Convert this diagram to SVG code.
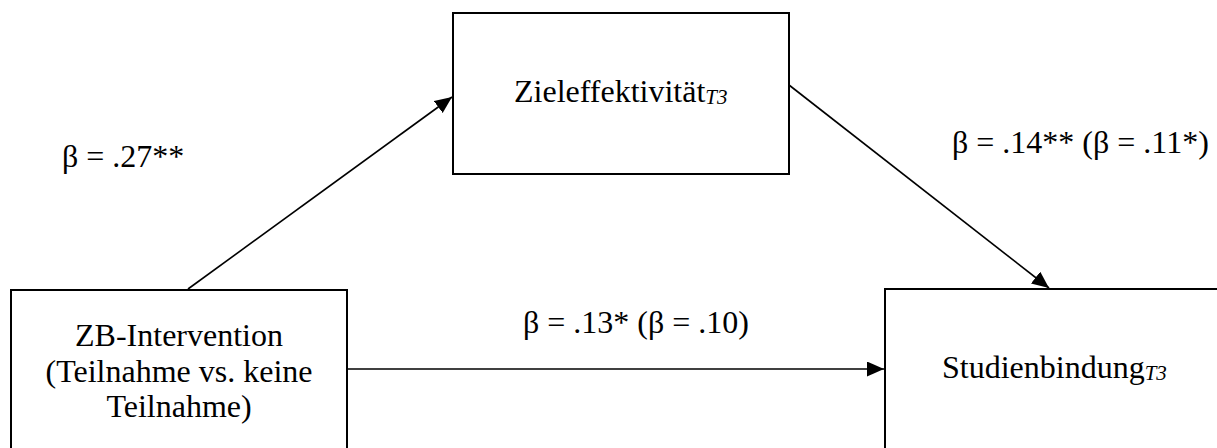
<svg xmlns="http://www.w3.org/2000/svg" width="1217" height="448" viewBox="0 0 1217 448">
<style>
.box{fill:#fff;stroke:#000;stroke-width:2}
.t{font-family:"Liberation Serif","Times New Roman",serif;font-size:32px;fill:#000}
.sub{font-family:"Liberation Serif","Times New Roman",serif;font-size:21px;font-style:italic}
.c{stroke:#000;stroke-width:1.6;fill:none;marker-end:url(#ah)}
</style>
<defs>
<marker id="ah" markerUnits="userSpaceOnUse" markerWidth="18" markerHeight="16" refX="17" refY="7.5" orient="auto">
<path d="M0,0 L17,7.5 L0,15 Z" fill="#000"/>
</marker>
</defs>
<rect width="1217" height="448" fill="#fff"/>
<g id="connectors">
<line class="c" x1="188" y1="289" x2="452" y2="97"/>
<line class="c" x1="789" y1="85" x2="1049" y2="288"/>
<line class="c" x1="347" y1="369" x2="884" y2="369"/>
</g>
<g id="node-intervention">
<rect class="box" x="11" y="290" width="336" height="170"/>
<text class="t" x="179" y="346" text-anchor="middle">ZB-Intervention</text>
<text class="t" x="179" y="382" text-anchor="middle">(Teilnahme vs. keine</text>
<text class="t" x="179" y="417" text-anchor="middle">Teilnahme)</text>
</g>
<g id="node-ziel">
<rect class="box" x="453" y="13" width="336" height="161"/>
<text class="t" x="514" y="102">Zieleffektivität<tspan class="sub" dy="2">T3</tspan></text>
</g>
<g id="node-studien">
<rect class="box" x="885" y="289" width="345" height="170"/>
<text class="t" x="942" y="378">Studienbindung<tspan class="sub" dy="2">T3</tspan></text>
</g>
<g id="labels">
<text class="t" x="62" y="167">β = .27**</text>
<text class="t" x="952" y="153">β = .14** (β = .11*)</text>
<text class="t" x="523" y="333">β = .13* (β = .10)</text>
</g>
</svg>
